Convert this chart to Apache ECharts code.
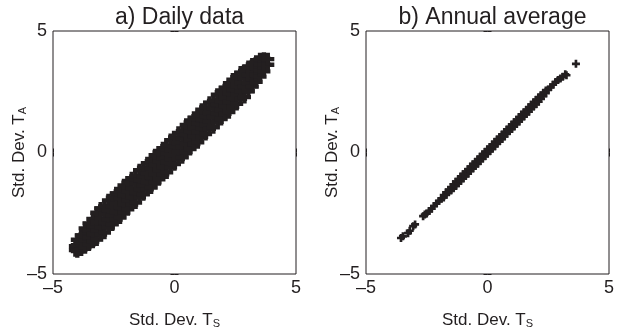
<!DOCTYPE html>
<html><head><meta charset="utf-8">
<script src="https://cdn.jsdelivr.net/npm/echarts@6/dist/echarts.min.js"></script>
<style>html,body{margin:0;padding:0;background:#fff}#c{width:626px;height:334px}</style>
</head><body><div id="c"></div>
<script>
const titles = ['a) Daily data', 'b) Annual average'];
const xName = 'Std. Dev. T';
const xSub = 'S';
const yName = 'Std. Dev. T';
const ySub = 'A';
const axisMin = -5, axisMax = 5, axisStep = 5;

// Panel a: daily data, columns of [Ts, [Ta values]]
const dailyCols = [
  [-4.08, [-4.02, -3.85]],
  [-4.00, [-4.06, -3.81, -3.59]],
  [-3.84, [-3.99, -3.71, -3.41]],
  [-3.68, [-3.90, -3.62, -3.35, -3.12]],
  [-3.52, [-3.79, -3.49, -3.19, -2.92]],
  [-3.36, [-3.67, -3.35, -3.03, -2.73]],
  [-3.20, [-3.58, -3.21, -2.85, -2.48]],
  [-3.04, [-3.38, -3.08, -2.73, -2.30]],
  [-2.88, [-3.30, -2.87, -2.52, -2.22]],
  [-2.72, [-3.09, -2.75, -2.37, -1.97]],
  [-2.56, [-2.96, -2.59, -2.23, -1.86]],
  [-2.40, [-2.76, -2.46, -2.11, -1.68]],
  [-2.24, [-2.68, -2.25, -1.90, -1.60]],
  [-2.08, [-2.47, -2.13, -1.75, -1.35]],
  [-1.92, [-2.34, -1.97, -1.61, -1.24]],
  [-1.76, [-2.14, -1.84, -1.49, -1.06]],
  [-1.60, [-2.06, -1.63, -1.28, -0.98]],
  [-1.44, [-1.85, -1.51, -1.13, -0.73]],
  [-1.28, [-1.72, -1.35, -0.99, -0.62]],
  [-1.12, [-1.52, -1.22, -0.87, -0.44]],
  [-0.96, [-1.44, -1.01, -0.66, -0.36]],
  [-0.80, [-1.23, -0.89, -0.51, -0.11]],
  [-0.64, [-1.10, -0.73, -0.37, 0.00]],
  [-0.48, [-0.90, -0.60, -0.25, 0.18]],
  [-0.32, [-0.82, -0.39, -0.04, 0.26]],
  [-0.16, [-0.61, -0.27, 0.11, 0.51]],
  [0.00, [-0.48, -0.11, 0.25, 0.62]],
  [0.16, [-0.27, 0.03, 0.38, 0.81]],
  [0.32, [-0.20, 0.23, 0.58, 0.88]],
  [0.48, [0.02, 0.36, 0.74, 1.14]],
  [0.64, [0.14, 0.51, 0.87, 1.24]],
  [0.80, [0.35, 0.65, 1.00, 1.43]],
  [0.96, [0.42, 0.85, 1.20, 1.50]],
  [1.12, [0.64, 0.98, 1.36, 1.76]],
  [1.28, [0.76, 1.13, 1.49, 1.86]],
  [1.44, [0.97, 1.27, 1.62, 2.05]],
  [1.60, [1.04, 1.47, 1.82, 2.12]],
  [1.76, [1.26, 1.60, 1.98, 2.38]],
  [1.92, [1.38, 1.75, 2.11, 2.48]],
  [2.08, [1.59, 1.89, 2.24, 2.67]],
  [2.24, [1.66, 2.09, 2.44, 2.74]],
  [2.40, [1.88, 2.22, 2.60, 3.00]],
  [2.56, [2.00, 2.37, 2.73, 3.10]],
  [2.72, [2.21, 2.51, 2.86, 3.29]],
  [2.88, [2.28, 2.71, 3.06, 3.36]],
  [3.04, [2.52, 2.85, 3.19, 3.52]],
  [3.20, [2.71, 3.02, 3.32, 3.62]],
  [3.36, [2.91, 3.19, 3.47, 3.73]],
  [3.52, [3.12, 3.38, 3.62, 3.84]],
  [3.68, [3.34, 3.62, 3.86]],
  [3.84, [3.61, 3.84]]
];

// Panel b: annual averages, columns of [Ts, [Ta values]]
const annualCols = [
  [-2.5, [-2.51]], [-2.4, [-2.41]], [-2.3, [-2.31]], [-2.2, [-2.20]],
  [-2.1, [-2.10]], [-2.0, [-2.00]], [-1.9, [-1.90]],
  [-1.8, [-1.85, -1.75]], [-1.7, [-1.74, -1.64]], [-1.6, [-1.64, -1.54]],
  [-1.5, [-1.56, -1.42]], [-1.4, [-1.47, -1.31]], [-1.3, [-1.38, -1.20]],
  [-1.2, [-1.27, -1.09]], [-1.1, [-1.17, -0.99]], [-1.0, [-1.07, -0.89]],
  [-0.9, [-0.97, -0.79]], [-0.8, [-0.87, -0.69]], [-0.7, [-0.76, -0.58]],
  [-0.6, [-0.66, -0.48]], [-0.5, [-0.56, -0.38]], [-0.4, [-0.46, -0.28]],
  [-0.3, [-0.36, -0.18]], [-0.2, [-0.25, -0.07]], [-0.1, [-0.15, 0.03]],
  [0.0, [-0.05, 0.13]], [0.1, [0.05, 0.23]], [0.2, [0.15, 0.33]],
  [0.3, [0.26, 0.44]], [0.4, [0.36, 0.54]], [0.5, [0.46, 0.64]],
  [0.6, [0.56, 0.74]], [0.7, [0.66, 0.84]], [0.8, [0.77, 0.95]],
  [0.9, [0.87, 1.05]], [1.0, [0.97, 1.15]], [1.1, [1.07, 1.25]],
  [1.2, [1.17, 1.35]], [1.3, [1.28, 1.46]], [1.4, [1.38, 1.56]],
  [1.5, [1.48, 1.66]], [1.6, [1.58, 1.76]], [1.7, [1.68, 1.86]],
  [1.8, [1.79, 1.97]], [1.9, [1.89, 2.07]], [2.0, [1.99, 2.17]],
  [2.1, [2.09, 2.27]], [2.2, [2.20, 2.36]], [2.3, [2.32, 2.46]],
  [2.4, [2.44, 2.55]], [2.5, [2.59]], [2.6, [2.69]], [2.7, [2.79]], [2.8, [2.90]]
];
const annualOutliers = [
  [-3.56, -3.52], [-3.48, -3.45], [-3.27, -3.32], [-3.20, -3.22],
  [-3.06, -3.03], [-2.98, -2.96], [-2.65, -2.62], [-2.58, -2.55],
  [2.90, 2.98], [3.00, 3.05], [3.10, 3.12], [3.20, 3.22], [3.25, 3.18], [3.64, 3.65]
];

function flatten(cols) {
  const out = [];
  cols.forEach(c => c[1].forEach(y => out.push([c[0], y])));
  return out;
}
const dailyData = flatten(dailyCols);
const annualData = flatten(annualCols).concat(annualOutliers);

const INK = '#231f20';
const FONT = 'Liberation Sans';
const plus = 'path://M4,0h4v4h4v4h-4v4h-4v-4h-4v-4h4z';
const tickFmt = v => String(v).replace('-', '\u2013');

function nameRich(main, sub) {
  return '{m|' + main + '}{s|' + sub + '}';
}
const nameStyle = {
  color: INK, fontFamily: FONT,
  rich: {
    m: { fontSize: 17, fontFamily: FONT, color: INK },
    s: { fontSize: 11, fontFamily: FONT, color: INK, verticalAlign: 'bottom' }
  }
};

const grids = [
  { left: 53, top: 31, width: 243, height: 244 },
  { left: 366, top: 31, width: 243, height: 244 }
];
const xAxes = [], yAxes = [];
grids.forEach((g, i) => {
  xAxes.push({
    gridIndex: i, type: 'value', min: axisMin, max: axisMax, interval: axisStep,
    axisLine: { show: false }, splitLine: { show: false },
    axisTick: { inside: true, length: 4, lineStyle: { color: INK } },
    axisLabel: { formatter: tickFmt, fontSize: 18, color: INK, fontFamily: FONT, margin: 5 },
    name: nameRich(xName, xSub), nameLocation: 'middle', nameGap: 38, nameTextStyle: nameStyle,
    nameMoveOverlap: false
  });
  xAxes.push({
    gridIndex: i, type: 'value', position: 'top', min: axisMin, max: axisMax, interval: axisStep,
    axisLine: { show: false }, splitLine: { show: false },
    axisTick: { inside: true, length: 4, lineStyle: { color: INK } },
    axisLabel: { show: false }
  });
  yAxes.push({
    gridIndex: i, type: 'value', min: axisMin, max: axisMax, interval: axisStep,
    axisLine: { show: false }, splitLine: { show: false },
    axisTick: { inside: true, length: 4, lineStyle: { color: INK } },
    axisLabel: { formatter: tickFmt, fontSize: 18, color: INK, fontFamily: FONT, margin: 6 },
    name: nameRich(yName, ySub), nameLocation: 'middle', nameGap: 25, nameTextStyle: nameStyle,
    nameMoveOverlap: false
  });
  yAxes.push({
    gridIndex: i, type: 'value', position: 'right', min: axisMin, max: axisMax, interval: axisStep,
    axisLine: { show: false }, splitLine: { show: false },
    axisTick: { inside: true, length: 4, lineStyle: { color: INK } },
    axisLabel: { show: false }
  });
});

const chart = echarts.init(document.getElementById('c'), null, { renderer: 'canvas' });
chart.setOption({
  animation: false,
  backgroundColor: '#fff',
  title: [
    { text: titles[0], left: 174.5, top: 1, textAlign: 'center',
      textStyle: { fontSize: 23, fontWeight: 'normal', color: INK, fontFamily: FONT } },
    { text: titles[1], left: 487.5, top: 1, textAlign: 'center',
      textStyle: { fontSize: 23, fontWeight: 'normal', color: INK, fontFamily: FONT } }
  ],
  grid: grids.map(g => Object.assign({ show: true, borderColor: INK, borderWidth: 1, containLabel: false }, g)),
  xAxis: xAxes,
  yAxis: yAxes,
  series: [
    { type: 'scatter', xAxisIndex: 0, yAxisIndex: 0, data: dailyData,
      symbol: plus, symbolSize: 13, itemStyle: { color: INK, opacity: 1 } },
    { type: 'scatter', xAxisIndex: 2, yAxisIndex: 2, data: annualData,
      symbol: plus, symbolSize: 8, itemStyle: { color: INK, opacity: 1 } }
  ]
});
</script>
</body></html>
